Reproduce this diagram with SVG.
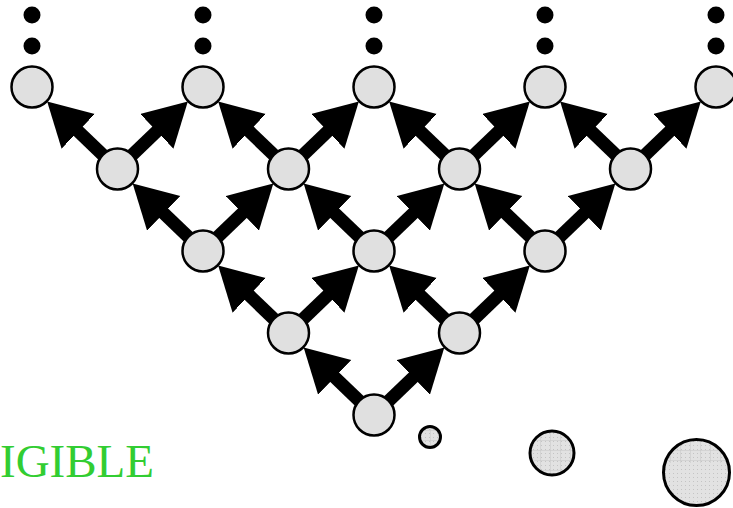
<svg xmlns="http://www.w3.org/2000/svg" width="733" height="508" viewBox="0 0 733 508">
<style>
.node{fill:#e0e0e0;stroke:#000;stroke-width:2.5}
.dot{fill:#000}
.edge{stroke:#000;stroke-width:13;fill:none;marker-end:url(#ah)}
.tex{stroke:#000;stroke-width:3}
.lbl{font-family:"Liberation Serif","Times New Roman",serif;font-size:47px;fill:#32cd32}
</style>
<defs>
<marker id="ah" markerUnits="userSpaceOnUse" markerWidth="46" markerHeight="50" refX="2" refY="24" orient="auto">
<path d="M0,0 L43,24 L0,48 Z" fill="#000"/>
</marker>
<pattern id="stip" patternUnits="userSpaceOnUse" width="4" height="4">
<rect width="4" height="4" fill="#e2e2e2"/>
<rect x="1" y="1" width="1" height="1" fill="#c4c4c4"/>
</pattern>
<pattern id="grid" patternUnits="userSpaceOnUse" width="10" height="10">
<path d="M0,0 H10 M0,0 V10" stroke="#c6c6c6" stroke-width="1" fill="none"/>
</pattern>
<clipPath id="topband"><rect x="660" y="430" width="80" height="33"/></clipPath>
</defs>
<g id="connectors">
<line class="edge" x1="117.5" y1="169" x2="76.75" y2="129.92"/>
<line class="edge" x1="117.5" y1="169" x2="158.25" y2="129.92"/>
<line class="edge" x1="288.5" y1="169" x2="247.75" y2="129.92"/>
<line class="edge" x1="288.5" y1="169" x2="329.25" y2="129.92"/>
<line class="edge" x1="459.5" y1="169" x2="418.75" y2="129.92"/>
<line class="edge" x1="459.5" y1="169" x2="500.25" y2="129.92"/>
<line class="edge" x1="630.5" y1="169" x2="589.75" y2="129.92"/>
<line class="edge" x1="630.5" y1="169" x2="671.25" y2="129.92"/>
<line class="edge" x1="203" y1="251" x2="162.25" y2="211.92"/>
<line class="edge" x1="203" y1="251" x2="243.75" y2="211.92"/>
<line class="edge" x1="374" y1="251" x2="333.25" y2="211.92"/>
<line class="edge" x1="374" y1="251" x2="414.75" y2="211.92"/>
<line class="edge" x1="545" y1="251" x2="504.25" y2="211.92"/>
<line class="edge" x1="545" y1="251" x2="585.75" y2="211.92"/>
<line class="edge" x1="288.5" y1="333" x2="247.75" y2="293.92"/>
<line class="edge" x1="288.5" y1="333" x2="329.25" y2="293.92"/>
<line class="edge" x1="459.5" y1="333" x2="418.75" y2="293.92"/>
<line class="edge" x1="459.5" y1="333" x2="500.25" y2="293.92"/>
<line class="edge" x1="374" y1="415" x2="333.25" y2="375.92"/>
<line class="edge" x1="374" y1="415" x2="414.75" y2="375.92"/>
</g>
<g id="dots">
<circle class="dot" cx="32" cy="15" r="8.5"/><circle class="dot" cx="32" cy="46" r="8.5"/>
<circle class="dot" cx="203" cy="15" r="8.5"/><circle class="dot" cx="203" cy="46" r="8.5"/>
<circle class="dot" cx="374" cy="15" r="8.5"/><circle class="dot" cx="374" cy="46" r="8.5"/>
<circle class="dot" cx="545" cy="15" r="8.5"/><circle class="dot" cx="545" cy="46" r="8.5"/>
<circle class="dot" cx="716" cy="15" r="8.5"/><circle class="dot" cx="716" cy="46" r="8.5"/>
</g>
<g id="n0_0"><circle class="node" cx="32" cy="87" r="20.5"/></g>
<g id="n0_1"><circle class="node" cx="203" cy="87" r="20.5"/></g>
<g id="n0_2"><circle class="node" cx="374" cy="87" r="20.5"/></g>
<g id="n0_3"><circle class="node" cx="545" cy="87" r="20.5"/></g>
<g id="n0_4"><circle class="node" cx="716" cy="87" r="20.5"/></g>
<g id="n1_0"><circle class="node" cx="117.5" cy="169" r="20.5"/></g>
<g id="n1_1"><circle class="node" cx="288.5" cy="169" r="20.5"/></g>
<g id="n1_2"><circle class="node" cx="459.5" cy="169" r="20.5"/></g>
<g id="n1_3"><circle class="node" cx="630.5" cy="169" r="20.5"/></g>
<g id="n2_0"><circle class="node" cx="203" cy="251" r="20.5"/></g>
<g id="n2_1"><circle class="node" cx="374" cy="251" r="20.5"/></g>
<g id="n2_2"><circle class="node" cx="545" cy="251" r="20.5"/></g>
<g id="n3_0"><circle class="node" cx="288.5" cy="333" r="20.5"/></g>
<g id="n3_1"><circle class="node" cx="459.5" cy="333" r="20.5"/></g>
<g id="n4_0"><circle class="node" cx="374" cy="415" r="20.5"/></g>
<g id="legend-small">
<circle cx="430" cy="437" r="10.5" fill="url(#stip)"/>
<circle cx="430" cy="437" r="10.5" fill="url(#grid)"/>
<circle cx="430" cy="437" r="10.5" fill="none" class="tex"/>
</g>
<g id="legend-medium">
<circle cx="552" cy="453" r="22" fill="url(#stip)"/>
<circle cx="552" cy="453" r="22" fill="url(#grid)"/>
<circle cx="552" cy="453" r="22" fill="none" class="tex"/>
</g>
<g id="legend-large">
<circle cx="696.5" cy="472.5" r="33" fill="url(#stip)"/>
<circle cx="696.5" cy="472.5" r="33" fill="url(#grid)" clip-path="url(#topband)"/>
<circle cx="696.5" cy="472.5" r="33" fill="none" class="tex"/>
</g>
<text class="lbl" x="0" y="477">IGIBLE</text>
</svg>
